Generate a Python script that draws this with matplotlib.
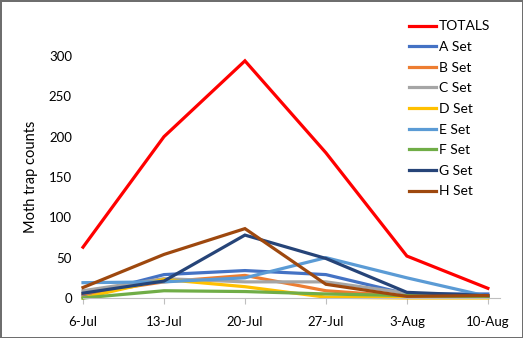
import matplotlib.pyplot as plt

dates = ["6-Jul", "13-Jul", "20-Jul", "27-Jul", "3-Aug", "10-Aug"]
totals = [63, 200, 294, 180, 52, 12]
a_set = [3, 29, 34, 29, 5, 5]
b_set = [5, 20, 28, 9, 2, 1]
c_set = [9, 24, 20, 20, 6, 1]
d_set = [0, 23, 14, 1, 0, 0]
e_set = [19, 20, 25, 50, 25, 2]
f_set = [0, 9, 8, 5, 3, 1]
g_set = [6, 21, 78, 49, 7, 3]
h_set = [13, 54, 86, 17, 2, 3]

series = [
    ("TOTALS", totals, "#FF0000"),
    ("A Set", a_set, "#4472C4"),
    ("B Set", b_set, "#ED7D31"),
    ("C Set", c_set, "#A5A5A5"),
    ("D Set", d_set, "#FFC000"),
    ("E Set", e_set, "#5B9BD5"),
    ("F Set", f_set, "#70AD47"),
    ("G Set", g_set, "#264478"),
    ("H Set", h_set, "#9E480E"),
]

plt.rcParams["font.family"] = ["Lato", "DejaVu Sans"]

W, H = 523, 338
fig = plt.figure(figsize=(W / 100, H / 100), dpi=100)
fig.patch.set_edgecolor("#6e6e6e")
fig.patch.set_linewidth(2)

ax = fig.add_axes([83 / W, 1 - 298 / H, (500 - 83) / W, (298 - 56) / H])
x = list(range(len(dates)))
for name, vals, col in series:
    ax.plot(x, vals, color=col, lw=2.3, label=name, clip_on=False, solid_joinstyle="miter")

ax.set_xlim(0, 5.15)
ax.set_ylim(0, 300)
ax.set_yticks([0, 50, 100, 150, 200, 250, 300])
ax.set_xticks(x)
ax.set_xticklabels(dates)
for s in ["top", "right", "left"]:
    ax.spines[s].set_visible(False)
ax.spines["bottom"].set_color("#bfbfbf")
ax.tick_params(axis="y", length=0, pad=8, labelsize=9.5, colors="#000000")
ax.tick_params(axis="x", length=4, color="#bfbfbf", pad=9, labelsize=9.5)
ax.set_ylabel("Moth trap counts", fontsize=10.5, labelpad=8)

fig.legend(loc="upper left", bbox_to_anchor=(396 / W, 1 - 8 / H), frameon=False,
           fontsize=10, handlelength=2.0, labelspacing=0.62, handletextpad=0.2)

fig.savefig("out.png", dpi=100)
